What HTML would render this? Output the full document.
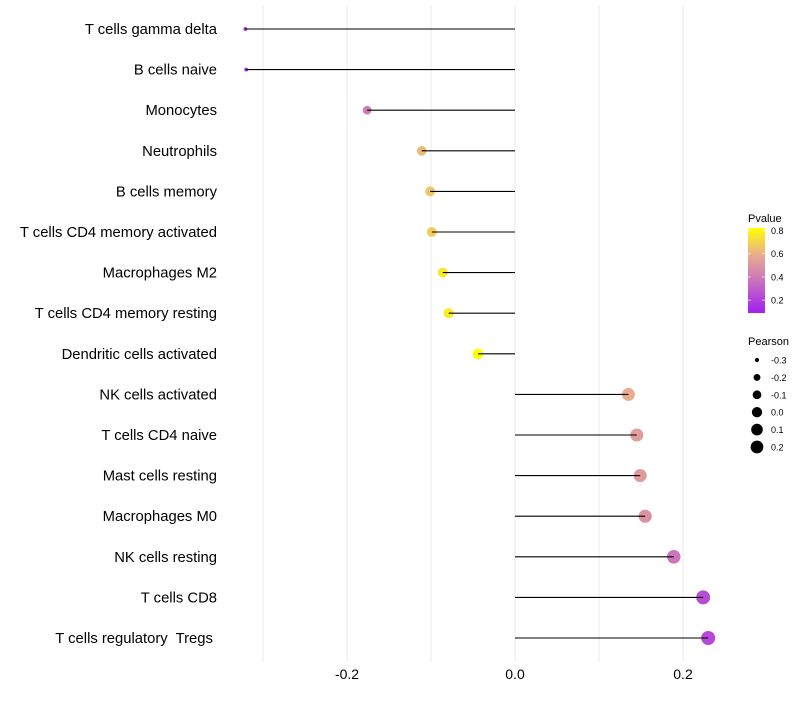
<!DOCTYPE html>
<html><head><meta charset="utf-8"><style>
body{margin:0;background:#fff;font-family:"Liberation Sans",sans-serif}
text{white-space:pre}
</style></head><body>
<svg id="c" width="800" height="700" xmlns="http://www.w3.org/2000/svg"></svg>
<script>
const categories=["T cells gamma delta","B cells naive","Monocytes","Neutrophils","B cells memory","T cells CD4 memory activated","Macrophages M2","T cells CD4 memory resting","Dendritic cells activated","NK cells activated","T cells CD4 naive","Mast cells resting","Macrophages M0","NK cells resting","T cells CD8","T cells regulatory  Tregs "];
const pearson=[-0.321,-0.320,-0.176,-0.111,-0.101,-0.099,-0.086,-0.079,-0.044,0.135,0.145,0.149,0.155,0.189,0.224,0.230];
const pvalue=[0.10,0.11,0.40,0.63,0.66,0.68,0.75,0.77,0.85,0.58,0.53,0.52,0.49,0.38,0.24,0.23];
const xTicks=[-0.2,0.0,0.2];
const xTickLabels=["-0.2","0.0","0.2"];
const pTicks=[0.2,0.4,0.6,0.8];
const sizeTicks=[-0.3,-0.2,-0.1,0.0,0.1,0.2];

const NS="http://www.w3.org/2000/svg";
const svg=document.getElementById('c');
function mk(t,a,p){const e=document.createElementNS(NS,t);for(const k in a)e.setAttribute(k,a[k]);(p||svg).appendChild(e);return e;}
const x=v=>515+v*840;
const y=i=>29+i*(638-29)/(categories.length-1);
const r=v=>v<-0.3?1.9:Math.sqrt(Math.max(2.8,31.7+75*v));
const rl=v=>Math.sqrt(Math.max(0.8,26+75*v));
const stops=[[0.09,[160,32,240]],[0.4,[208,122,184]],[0.6,[233,176,138]],[0.82,[255,255,0]]];
function col(p){if(p<=stops[0][0])return `rgb(${stops[0][1]})`;for(let i=1;i<stops.length;i++){if(p<=stops[i][0]){const a=stops[i-1],b=stops[i];const t=(p-a[0])/(b[0]-a[0]);return `rgb(${a[1].map((c,j)=>Math.round(c+(b[1][j]-c)*t))})`;}}return 'rgb(255,255,0)';}
const py=p=>313-(p-0.09)/(0.82-0.09)*85;

[-0.3,-0.2,-0.1,0,0.1,0.2].forEach(v=>{const g=mk('line',{x1:x(v),x2:x(v),y1:5,y2:662,stroke:'#ebebeb','stroke-width':1});});
xTicks.forEach((v,i)=>{const t=mk('text',{x:x(v),y:679,'text-anchor':'middle','font-size':14,fill:'#000'});t.textContent=xTickLabels[i];});
categories.forEach((c,i)=>{
 const t=mk('text',{x:217,y:y(i)+5,'text-anchor':'end','font-size':14.8,fill:'#000','xml:space':'preserve'});t.textContent=c;
 
 const p=mk('circle',{cx:x(pearson[i]),cy:y(i),r:r(pearson[i]),fill:col(pvalue[i])});
 
 const l=mk('line',{x1:x(0),x2:x(pearson[i]),y1:y(i),y2:y(i),stroke:'#000','stroke-width':1.1});
 
});
let t=mk('text',{x:748,y:222,'font-size':11});t.textContent='Pvalue';
const defs=mk('defs',{});const lg=mk('linearGradient',{id:'g',x1:0,y1:1,x2:0,y2:0},defs);
stops.forEach(s=>mk('stop',{offset:(s[0]-0.09)/(0.82-0.09),'stop-color':`rgb(${s[1]})`},lg));
const cb=mk('rect',{x:748,y:228,width:17,height:85,fill:'url(#g)'});
pTicks.forEach(p=>{mk('line',{x1:748,x2:751,y1:py(p),y2:py(p),stroke:'#fff','stroke-opacity':0.6});mk('line',{x1:762,x2:765,y1:py(p),y2:py(p),stroke:'#fff','stroke-opacity':0.6});
 const tt=mk('text',{x:771,y:py(p)+3.5,'font-size':9});tt.textContent=p.toFixed(1);});
t=mk('text',{x:748,y:345,'font-size':11});t.textContent='Pearson';
sizeTicks.forEach((v,i)=>{const cy=360+i*17.4;
 const c=mk('circle',{cx:757,cy:cy,r:rl(v)*0.95+0.3,fill:'#000'});
 const tt=mk('text',{x:771,y:cy+3.5,'font-size':9});tt.textContent=v.toFixed(1);});
</script>
</body></html>
